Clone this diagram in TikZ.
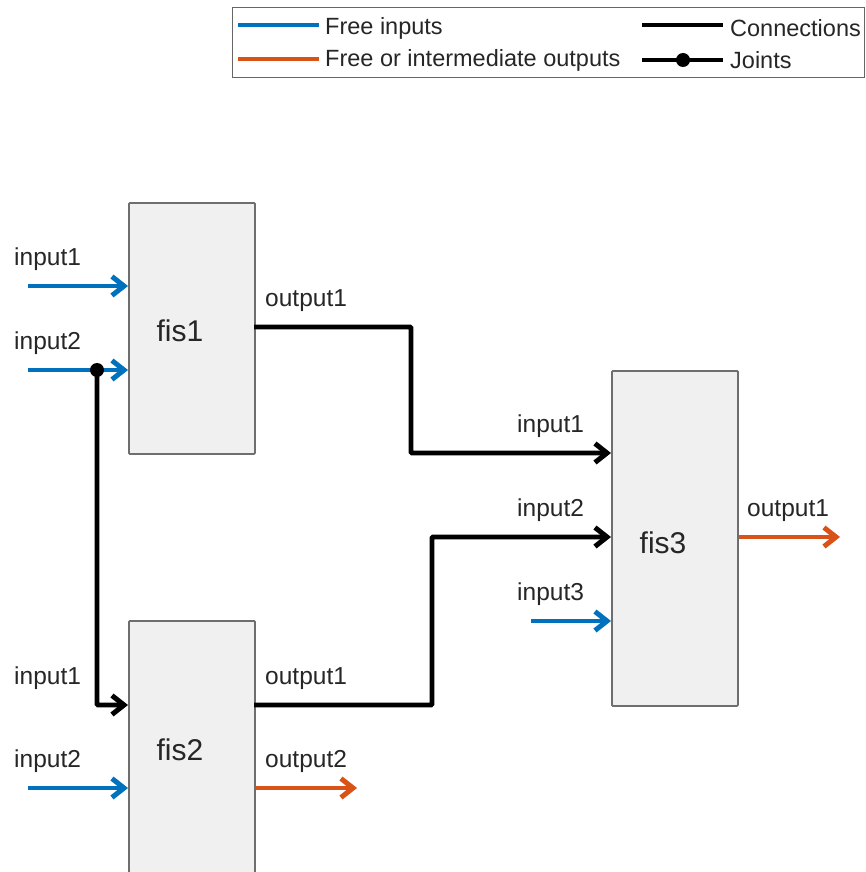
\documentclass[tikz,border=0pt]{standalone}
\usepackage{fontspec}
\setmainfont{Liberation Sans}
\usetikzlibrary{arrows.meta}
\definecolor{mblue}{HTML}{0072BD}
\definecolor{morange}{HTML}{D95319}
\definecolor{boxfill}{HTML}{F0F0F0}
\definecolor{boxline}{HTML}{6E6E6E}
\tikzset{
  fisbox/.style={draw=boxline, fill=boxfill, line width=1.8pt, rounded corners=1pt, anchor=north west, inner sep=0pt},
  fislbl/.style={font=\fontsize{30}{34}\selectfont, text=black!85, inner sep=0pt},
  lbl/.style={font=\fontsize{24.5}{28}\selectfont, text=black!85, anchor=base west, inner sep=0pt},
  leglbl/.style={font=\fontsize{23.5}{27}\selectfont, text=black!85, anchor=west, inner sep=0pt},
  tip/.style={-{Straight Barb[length=12pt,width=19pt,line width=5pt]}},
  freein/.style={mblue, line width=4.8pt, tip},
  freeout/.style={morange, line width=4.8pt, tip},
  conn/.style={black, line width=4.8pt, tip, rounded corners=1pt},
  legline/.style={line width=4.8pt}
}
\begin{document}
\begin{tikzpicture}[x=1pt,y=-1pt]
\useasboundingbox (0,0) rectangle (866,872);
% legend
\node[draw=black!60, line width=1.4pt, minimum width=632, minimum height=70, anchor=north west, inner sep=0pt] (legend) at (232,7) {};
\coordinate (lb1) at (238,25); \coordinate (lb2) at (319,25);
\coordinate (lo1) at (238,59); \coordinate (lo2) at (319,59);
\coordinate (lc1) at (642,25); \coordinate (lc2) at (723,25);
\coordinate (lj1) at (642,60); \coordinate (lj2) at (723,60);
\coordinate (ljd) at (683,60);
\draw[legline, mblue] (lb1) -- (lb2);
\draw[legline, morange] (lo1) -- (lo2);
\draw[legline, black] (lc1) -- (lc2);
\draw[legline, black] (lj1) -- (lj2);
\fill (ljd) circle (7);
\node[leglbl] (tb) at (325,28) {Free inputs};
\node[leglbl] (to) at (325,60) {Free or intermediate outputs};
\node[leglbl] (tc) at (730,28) {Connections};
\node[leglbl] (tj) at (730,60) {Joints};
% boxes
\node[fisbox, minimum width=126, minimum height=251] (fis1) at (128,202) {};
\node[fisbox, minimum width=126, minimum height=252] (fis2) at (128,620) {};
\node[fisbox, minimum width=126, minimum height=335] (fis3) at (611,370) {};
\node[fislbl] (fis1l) at (180,331) {fis1};
\node[fislbl] (fis2l) at (180,750) {fis2};
\node[fislbl] (fis3l) at (663,543) {fis3};
% fis1 inputs
\coordinate (a11) at (28,286);
\coordinate (a12) at (28,370);
\coordinate (jt) at (97,370);
\draw[freein] (a11) -- (a11 -| fis1.west);
\draw[freein] (a12) -- (a12 -| fis1.west);
\node[lbl] (l11) at (14,265) {input1};
\node[lbl] (l12) at (14,349) {input2};
% fis2 inputs
\coordinate (b21) at (128,705);
\coordinate (a22) at (28,788);
\draw[conn] (jt) |- (b21);
\fill (jt) circle (7);
\draw[freein] (a22) -- (a22 -| fis2.west);
\node[lbl] (l21) at (14,684) {input1};
\node[lbl] (l22) at (14,767) {input2};
% fis1 output -> fis3 input1
\coordinate (o11) at (254,327);
\coordinate (c31) at (611,453);
\draw[conn] (o11) -- (411,327) -- (411,453) -- (c31);
\node[lbl] (lo11) at (265,306) {output1};
\node[lbl] (l31) at (517,432) {input1};
% fis2 output1 -> fis3 input2
\coordinate (o21) at (254,705);
\coordinate (c32) at (611,537);
\draw[conn] (o21) -- (432,705) -- (432,537) -- (c32);
\node[lbl] (lo21) at (265,684) {output1};
\node[lbl] (l32) at (517,516) {input2};
% fis3 input3
\coordinate (a33) at (531,621);
\draw[freein] (a33) -- (a33 -| fis3.west);
\node[lbl] (l33) at (517,600) {input3};
% outputs
\coordinate (e22) at (357,788);
\draw[freeout] (e22 -| fis2.east) -- (e22);
\node[lbl] (lo22) at (265,767) {output2};
\coordinate (e31) at (840,537);
\draw[freeout] (e31 -| fis3.east) -- (e31);
\node[lbl] (lo31) at (747,516) {output1};
\end{tikzpicture}
\end{document}
